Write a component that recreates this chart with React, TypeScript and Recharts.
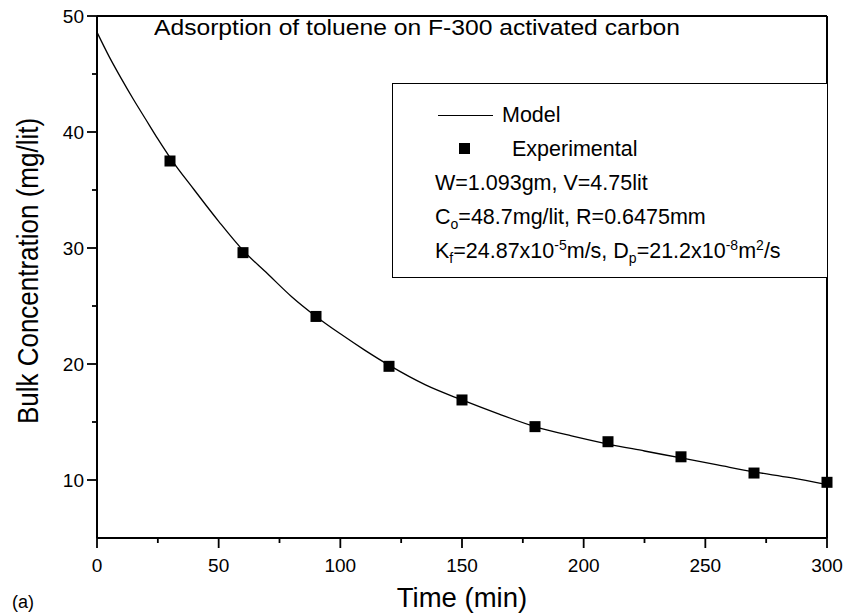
import {
  ComposedChart,
  Line,
  Scatter,
  XAxis,
  YAxis,
  ReferenceLine,
  Legend,
} from 'recharts'

// ─── Data ─────────────────────────────────────────────────────────────────────

const MODEL_TIME = [0, 5, 10, 15, 20, 25, 30, 40, 50, 60, 70, 80, 90, 100, 110, 120, 135, 150, 165, 180, 195, 210, 225, 240, 255, 270, 285, 300]
const MODEL_CONC = [48.6, 46.5, 44.6, 42.8, 41.1, 39.4, 37.8, 35.0, 32.3, 29.8, 27.8, 25.8, 24.1, 22.6, 21.2, 19.9, 18.2, 16.9, 15.7, 14.6, 13.8, 13.1, 12.5, 11.9, 11.3, 10.7, 10.2, 9.6]

const EXP_TIME = [30, 60, 90, 120, 150, 180, 210, 240, 270, 300]
const EXP_CONC = [37.5, 29.6, 24.1, 19.8, 16.9, 14.6, 13.3, 12.0, 10.6, 9.8]

const X_TICKS = [0, 25, 50, 75, 100, 125, 150, 175, 200, 225, 250, 275, 300]
const X_LABELED = [0, 50, 100, 150, 200, 250, 300]
const Y_TICKS = [10, 15, 20, 25, 30, 35, 40, 45, 50]
const Y_LABELED = [10, 20, 30, 40, 50]

const modelData = MODEL_TIME.map((t, i) => ({ t, c: MODEL_CONC[i] }))
const expData = EXP_TIME.map((t, i) => ({ t, c: EXP_CONC[i] }))

const FONT = '"Liberation Sans", Arial, Helvetica, sans-serif'

// ─── Ticks ────────────────────────────────────────────────────────────────────

function XTick({ x, y, payload }: any) {
  const major = X_LABELED.includes(payload.value)
  return (
    <g>
      <line x1={x} x2={x} y1={y} y2={y + (major ? 10 : 5)} stroke="#000" strokeWidth={1.8} />
      {major && (
        <text x={x} y={y + 34} textAnchor="middle" fontSize={19} fontFamily={FONT} fill="#000">
          {payload.value}
        </text>
      )}
    </g>
  )
}

function YTick({ x, y, payload }: any) {
  const major = Y_LABELED.includes(payload.value)
  return (
    <g>
      <line x1={x} x2={x - (major ? 10 : 5)} y1={y} y2={y} stroke="#000" strokeWidth={1.8} />
      {major && (
        <text x={x - 13} y={y} dy="0.36em" textAnchor="end" fontSize={19} fontFamily={FONT} fill="#000">
          {payload.value}
        </text>
      )}
    </g>
  )
}

function SquareDot({ cx, cy }: any) {
  return <rect x={cx - 5.5} y={cy - 5.5} width={11} height={11} fill="#000" />
}

// ─── Legend box ───────────────────────────────────────────────────────────────

const sub = { fontSize: 14, verticalAlign: '-5px', lineHeight: 0 } as const
const sup = { fontSize: 14, verticalAlign: '8px', lineHeight: 0 } as const

function LegendBox() {
  const row = { position: 'relative', height: 34, lineHeight: '34px', whiteSpace: 'nowrap' } as const
  return (
    <div
      style={{
        width: 436,
        height: 195,
        boxSizing: 'border-box',
        border: '1.5px solid #000',
        background: '#fff',
        paddingTop: 14,
        fontFamily: FONT,
        fontSize: 21.5,
        color: '#000',
      }}
    >
      <div style={row}>
        <span style={{ position: 'absolute', left: 45, top: 17, width: 55, borderTop: '1px solid #000' }} />
        <span style={{ position: 'absolute', left: 109 }}>Model</span>
      </div>
      <div style={row}>
        <span style={{ position: 'absolute', left: 66, top: 11, width: 11, height: 11, background: '#000' }} />
        <span style={{ position: 'absolute', left: 119 }}>Experimental</span>
      </div>
      <div style={row}>
        <span style={{ position: 'absolute', left: 42 }}>W=1.093gm, V=4.75lit</span>
      </div>
      <div style={row}>
        <span style={{ position: 'absolute', left: 42 }}>
          C<span style={sub}>o</span>=48.7mg/lit, R=0.6475mm
        </span>
      </div>
      <div style={row}>
        <span style={{ position: 'absolute', left: 42 }}>
          K<span style={sub}>f</span>=24.87x10<span style={sup}>-5</span>m/s, D<span style={sub}>p</span>
          =21.2x10<span style={sup}>-8</span>m<span style={sup}>2</span>/s
        </span>
      </div>
    </div>
  )
}

// ─── App ──────────────────────────────────────────────────────────────────────

export default function App() {
  return (
    <div style={{ position: 'absolute', left: 0, top: 0, width: 845, height: 616, background: '#fff' }}>
      <ComposedChart
        width={845}
        height={616}
        margin={{ top: 16, right: 18, left: 0, bottom: 0 }}
      >
        <XAxis
          type="number"
          dataKey="t"
          domain={[0, 300]}
          ticks={X_TICKS}
          interval={0}
          tick={<XTick />}
          tickLine={false}
          tickSize={0}
          tickMargin={0}
          axisLine={{ stroke: '#000', strokeWidth: 2 }}
          height={78}
          label={(props: any) => {
            const vb = props.viewBox
            return (
              <text x={vb.x + vb.width / 2} y={607} textAnchor="middle" fontSize={27.5} fontFamily={FONT} fill="#000">
                Time (min)
              </text>
            )
          }}
        />
        <YAxis
          type="number"
          dataKey="c"
          domain={[5, 50]}
          ticks={Y_TICKS}
          interval={0}
          tick={<YTick />}
          tickLine={false}
          tickSize={0}
          tickMargin={0}
          axisLine={{ stroke: '#000', strokeWidth: 2 }}
          width={97}
          label={(props: any) => {
            const vb = props.viewBox
            const cy = vb.y + vb.height / 2 - 6
            return (
              <text
                transform={`translate(38 ${cy}) rotate(-90) scale(1 1.15)`}
                textAnchor="middle"
                fontSize={26}
                fontFamily={FONT}
                fill="#000"
              >
                Bulk Concentration (mg/lit)
              </text>
            )
          }}
        />
        <ReferenceLine y={50} stroke="#000" strokeWidth={2} />
        <ReferenceLine x={300} stroke="#000" strokeWidth={2} />
        <Line
          data={modelData}
          dataKey="c"
          type="monotone"
          stroke="#000"
          strokeWidth={1.3}
          dot={false}
          activeDot={false}
          isAnimationActive={false}
        />
        <Scatter data={expData} dataKey="c" shape={<SquareDot />} isAnimationActive={false} />
        <Legend
          layout="vertical"
          align="center"
          verticalAlign="middle"
          wrapperStyle={{ left: 392, top: 83, width: 436, height: 195 }}
          content={() => <LegendBox />}
        />
      </ComposedChart>
      <div
        style={{
          position: 'absolute',
          left: 154,
          top: 17,
          fontFamily: FONT,
          fontSize: 22,
          lineHeight: 1,
          whiteSpace: 'nowrap',
          color: '#000',
          transform: 'scaleX(1.12)',
          transformOrigin: '0 0',
        }}
      >
        Adsorption of toluene on F-300 activated carbon
      </div>
      <div
        style={{
          position: 'absolute',
          left: 12,
          top: 593,
          fontFamily: FONT,
          fontSize: 18,
          lineHeight: 1,
          color: '#000',
        }}
      >
        (a)
      </div>
    </div>
  )
}
